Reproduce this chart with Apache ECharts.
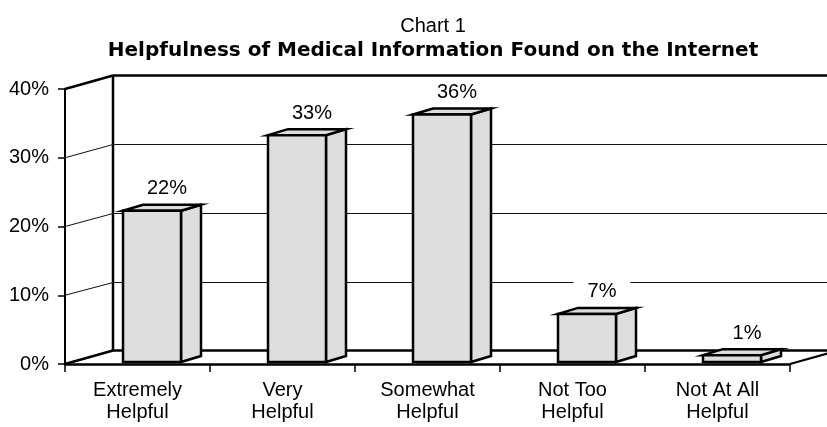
<!DOCTYPE html>
<html>
<head>
<meta charset="utf-8">
<script src="https://cdn.jsdelivr.net/npm/echarts@6/dist/echarts.min.js"></script>
<style>
html,body{margin:0;padding:0;background:#fff;}
#chart{width:827px;height:427px;}
</style>
</head>
<body>
<div id="chart"></div>
<script>
var categories = ['Extremely\nHelpful', 'Very\nHelpful', 'Somewhat\nHelpful', 'Not Too\nHelpful', 'Not At All\nHelpful'];
var values = [22, 33, 36, 7, 1];
var yTicks = [0, 10, 20, 30, 40];
var valueLabels = ['22%', '33%', '36%', '7%', '1%'];

var FONT = '"Liberation Sans", Arial, sans-serif';
var DEPTH = [48, -13.5];

var chart = echarts.init(document.getElementById('chart'), null, {renderer: 'canvas'});

function crisp(v) { return Math.round(v) + 0.5; }

function frameItem(params, api) {
  var v = api.value(0);
  var cs = params.coordSys;
  var x0 = cs.x, x1 = cs.x + cs.width;
  var y = api.coord([0, v])[1];
  var yTop = api.coord([0, yTicks[yTicks.length - 1]])[1];
  var isEdge = (v === yTicks[0] || v === yTicks[yTicks.length - 1]);
  var st = isEdge ? {stroke: '#000', lineWidth: 2.5} : {stroke: '#111', lineWidth: 1};
  var by = isEdge ? y + DEPTH[1] : crisp(y + DEPTH[1]);
  var children = [
    {type: 'line', shape: {x1: x0, y1: y, x2: x0 + DEPTH[0], y2: by}, style: st},
    {type: 'line', shape: {x1: x0 + DEPTH[0], y1: by, x2: x1 + DEPTH[0], y2: by}, style: st}
  ];
  if (v === yTicks[0]) {
    children.push({type: 'line', shape: {x1: x1, y1: y, x2: x1 + DEPTH[0], y2: y + DEPTH[1]}, style: {stroke: '#000', lineWidth: 2}});
    children.push({type: 'line', shape: {x1: x0 + DEPTH[0], y1: yTop + DEPTH[1], x2: x0 + DEPTH[0], y2: y + DEPTH[1]}, style: {stroke: '#000', lineWidth: 2.5}});
  }
  return {type: 'group', children: children};
}

function barItem(params, api) {
  var idx = api.value(0), val = api.value(1);
  var c0 = api.coord([idx, 0]);
  var c1 = api.coord([idx, val]);
  var bw = api.size([1, 0])[0];
  var L = c0[0] - bw * 0.1;
  var W = bw * 0.4;
  var R = L + W;
  var B = c0[1] - 2;
  var T = c1[1] - 2;
  var sx = 20, sy = -6;
  var st = {fill: '#dedede', stroke: '#000', lineWidth: 2.5, lineJoin: 'miter'};
  return {type: 'group', children: [
    {type: 'polygon', shape: {points: [[R, T], [R + sx, T + sy], [R + sx, B + sy], [R, B]]}, style: st},
    {type: 'polygon', shape: {points: [[L, T], [L + sx, T + sy], [R + sx, T + sy], [R, T]]}, style: st},
    {type: 'rect', shape: {x: L, y: T, width: W, height: B - T}, style: st},
    {type: 'text', x: L + W / 2 + 15, y: T + sy - 16, style: {
      text: valueLabels[params.dataIndex], fill: '#000', font: '20px ' + FONT,
      align: 'center', verticalAlign: 'middle', backgroundColor: '#fff', padding: [3, 14]
    }}
  ]};
}

chart.setOption({
  backgroundColor: '#fff',
  animation: false,
  title: [
    {text: 'Chart 1', left: 428, textAlign: 'center', top: 11,
     textStyle: {fontFamily: FONT, fontWeight: 'normal', fontSize: 20, color: '#000'}},
    {text: 'Helpfulness of Medical Information Found on the Internet', left: 428, textAlign: 'center', top: 36,
     textStyle: {fontFamily: '"DejaVu Sans", sans-serif', fontWeight: 'bold', fontSize: 20, color: '#000'}}
  ],
  grid: {left: 65, right: 37, top: 89, bottom: 63, containLabel: false},
  xAxis: {
    type: 'category', data: categories, boundaryGap: true,
    axisLine: {show: true, lineStyle: {color: '#000', width: 2.5}},
    axisTick: {show: true, length: 8, lineStyle: {color: '#000', width: 1.5}},
    axisLabel: {color: '#000', fontFamily: FONT, fontSize: 20, lineHeight: 22, margin: 15, interval: 0},
    splitLine: {show: false}
  },
  yAxis: {
    type: 'value', min: 0, max: 40, interval: 10,
    axisLine: {show: true, lineStyle: {color: '#000', width: 2}},
    axisTick: {show: true, length: 7, lineStyle: {color: '#000', width: 1.5}},
    axisLabel: {color: '#000', fontFamily: FONT, fontSize: 20, margin: 16, formatter: '{value}%'},
    splitLine: {show: false}
  },
  series: [
    {type: 'custom', name: 'frame', data: yTicks.map(function (t) { return [t]; }), renderItem: frameItem, z: 1, silent: true, clip: false},
    {type: 'custom', name: 'bars', data: values.map(function (v, i) { return [i, v]; }), renderItem: barItem, z: 3, silent: true, clip: false}
  ]
});
</script>
</body>
</html>
